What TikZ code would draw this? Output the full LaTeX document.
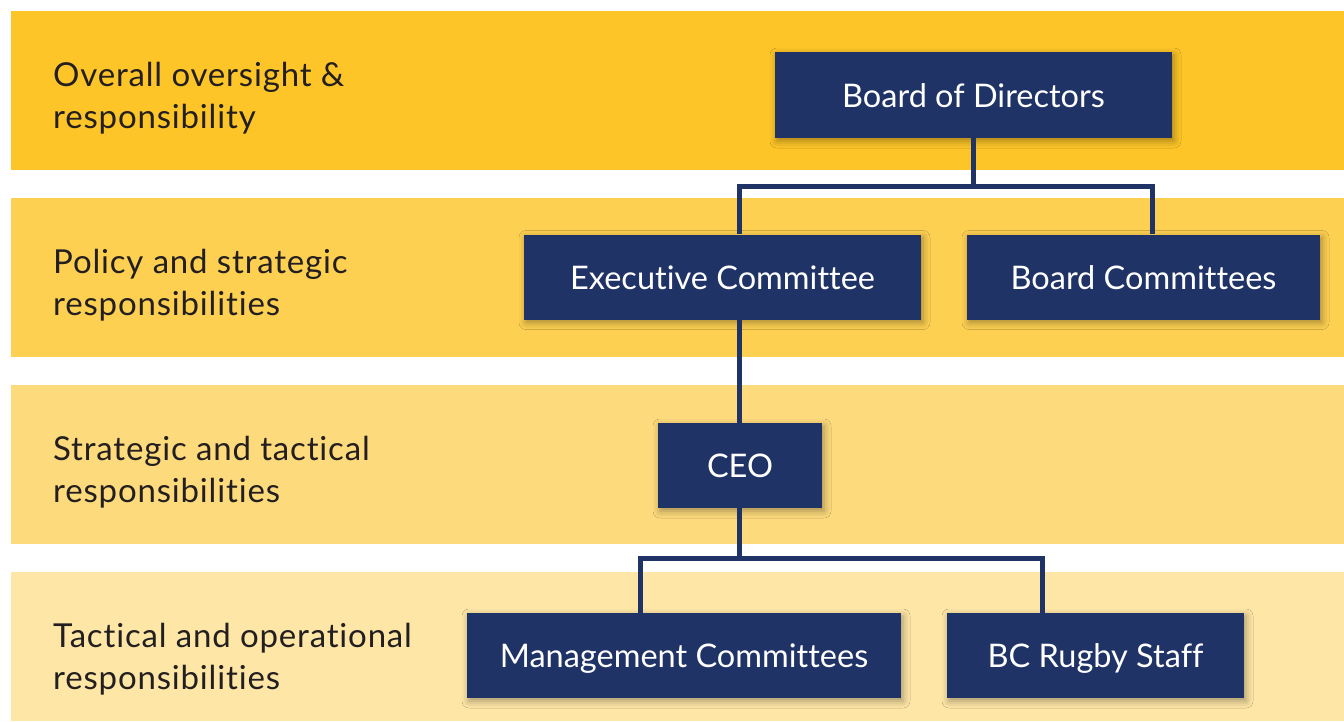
\documentclass[tikz,border=0pt]{standalone}
\usepackage{fontspec}
\setmainfont{Lato}[Ligatures=NoCommon]
\newfontfamily\levelfont{Lato}[Ligatures=NoCommon, LetterSpace=2.5]
\usetikzlibrary{shadows.blur}
\definecolor{navy}{HTML}{203366}
\definecolor{inkdark}{HTML}{231F20}
\definecolor{bandA}{HTML}{FDC527}
\definecolor{bandB}{HTML}{FDD052}
\definecolor{bandC}{HTML}{FDDA7C}
\definecolor{bandD}{HTML}{FEE6A6}

\begin{document}
\begin{tikzpicture}[x=1pt, y=-1pt,
  level/.style={anchor=west, align=left, inner sep=0pt, text=inkdark, font=\levelfont\fontsize{33}{42}\selectfont},
  unit/.style={fill=navy, text=white, inner sep=0pt, minimum height=85pt, text height=24pt, text depth=0pt,
    font=\fontsize{32.5}{40}\selectfont,
    blur shadow={shadow xshift=2pt, shadow yshift=-3pt, shadow blur radius=7pt, shadow opacity=35}},
  link/.style={draw=navy, line width=5pt, line join=miter}]
\useasboundingbox (0,0) rectangle (1344,721);
% bands
\fill[bandA] (11,11) rectangle (1344,170);
\fill[bandB] (11,198) rectangle (1344,357);
\fill[bandC] (11,385) rectangle (1344,544);
\fill[bandD] (11,572) rectangle (1344,721);
\node[level] (lvlA) at (53,98) {Overall oversight \&\\responsibility};
\node[level] (lvlB) at (53,285) {Policy and strategic\\responsibilities};
\node[level] (lvlC) at (53,472) {Strategic and tactical\\responsibilities};
\node[level] (lvlD) at (53,659) {Tactical and operational\\responsibilities};
% boxes
\node[unit, minimum width=397pt, minimum height=86pt] (board) at (973.5,95) {Board of Directors};
\node[unit, minimum width=397pt] (exec) at (722.5,277) {Executive Committee};
\node[unit, minimum width=353pt] (bcomm) at (1143.5,277) {Board Committees};
\node[unit, minimum width=164pt] (ceo) at (740,465.5) {CEO};
\node[unit, minimum width=434pt] (mgmt) at (684,655.5) {Management Committees};
\node[unit, minimum width=297pt] (staff) at (1095.5,655.5) {BC Rugby Staff};
% connectors
\coordinate (splitA) at (973.5,186);
\coordinate (splitB) at (739.5,558);
\draw[link] (board.south) -- (splitA) -| ([xshift=16.5pt]exec.north);
\draw[link] (splitA) -| ([xshift=8.5pt]bcomm.north);
\draw[link] ([xshift=17pt]exec.south) -- ([xshift=-0.5pt]ceo.north);
\draw[link] ([xshift=-0.5pt]ceo.south) -- (splitB) -| ([xshift=-44pt]mgmt.north);
\draw[link] (splitB) -| ([xshift=-53.5pt]staff.north);
\end{tikzpicture}
\end{document}
